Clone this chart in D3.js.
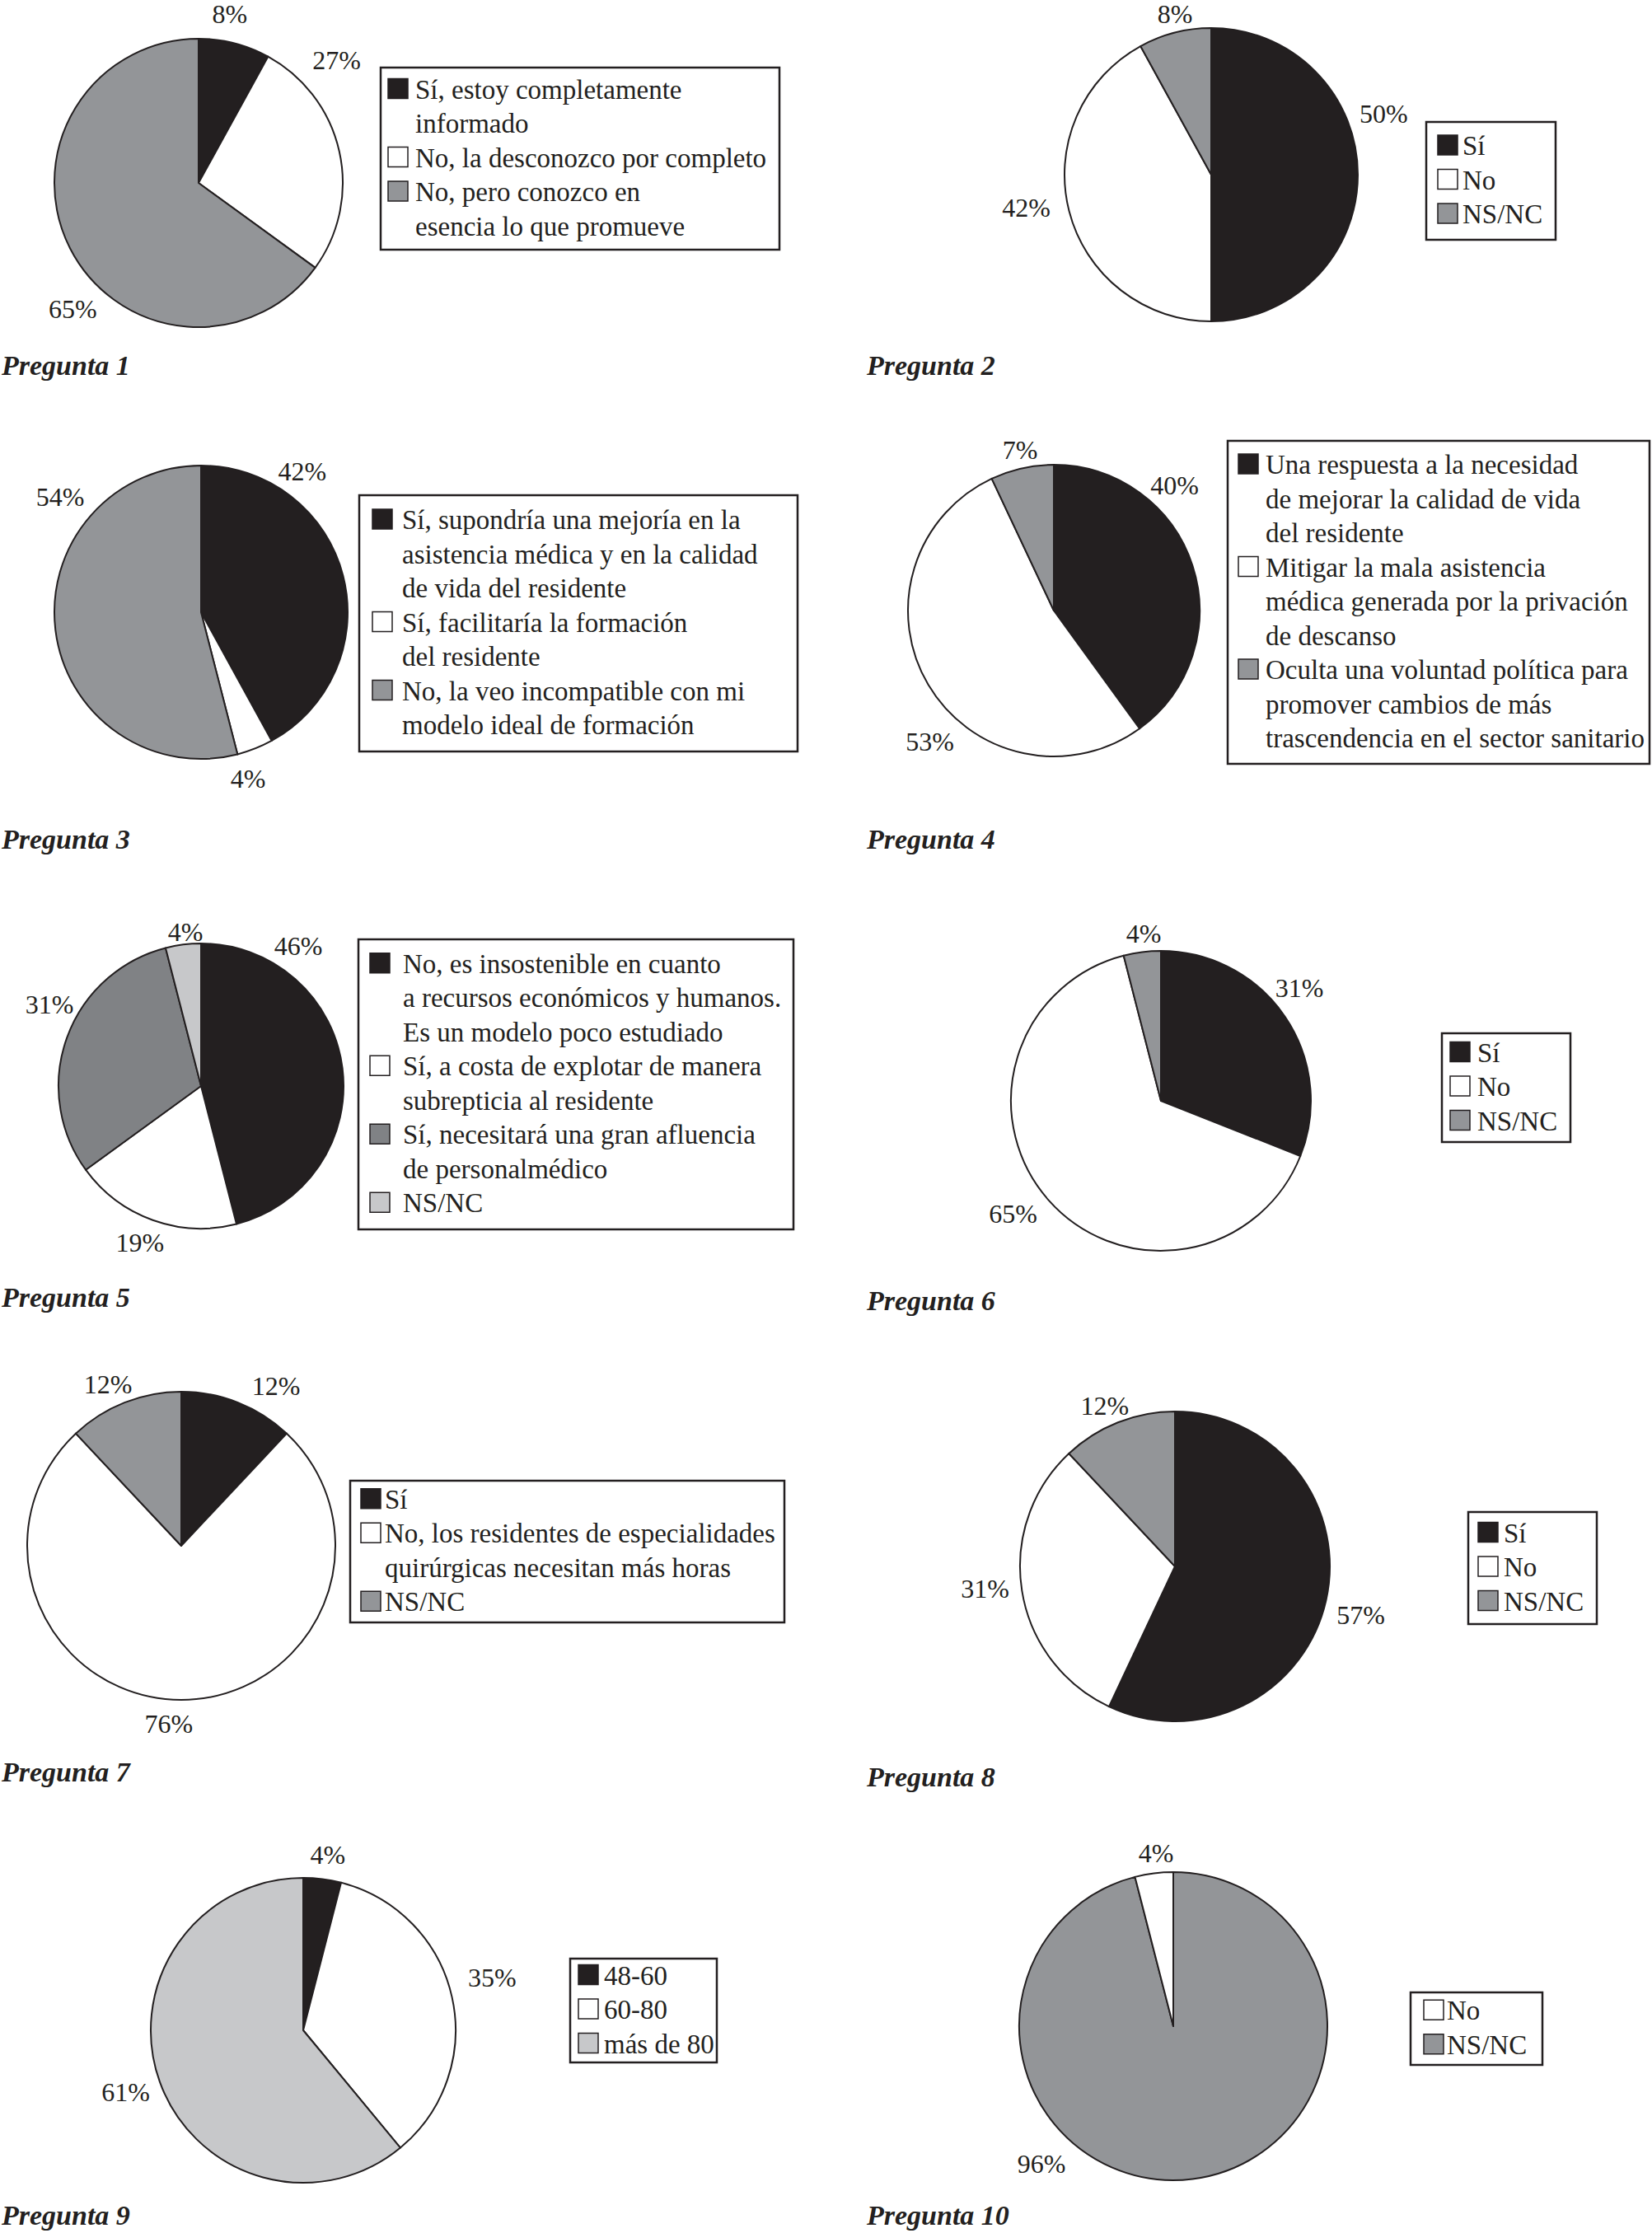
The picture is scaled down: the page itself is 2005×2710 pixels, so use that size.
<!DOCTYPE html>
<html lang="es">
<head>
<meta charset="utf-8">
<title>Preguntas 1-10</title>
<script src="https://cdn.jsdelivr.net/npm/d3@7"></script>
<style>
  body { margin: 0; background: #fff; }
  svg text { font-family: "Liberation Serif", "Times New Roman", serif; fill: #231f20; }
  .pct { font-size: 32px; }
  .leg { font-size: 33px; }
  .title { font-size: 34px; font-weight: bold; font-style: italic; }
</style>
</head>
<body>
<div id="vis"></div>
<script>
// colores
var NEGRO = "#231f20", BLANCO = "#ffffff", GRIS = "#939598", GRIS_OSC = "#808285", GRIS_CLARO = "#c7c8ca";

// datos (porcentajes), en el orden de la leyenda
var p1Cats = [["Sí, estoy completamente", "informado"], ["No, la desconozco por completo"], ["No, pero conozco en", "esencia lo que promueve"]];
var p1Vals = [8, 27, 65];
var p1Cols = [NEGRO, BLANCO, GRIS];

var p2Cats = [["Sí"], ["No"], ["NS/NC"]];
var p2Vals = [50, 42, 8];
var p2Cols = [NEGRO, BLANCO, GRIS];

var p3Cats = [["Sí, supondría una mejoría en la", "asistencia médica y en la calidad", "de vida del residente"], ["Sí, facilitaría la formación", "del residente"], ["No, la veo incompatible con mi", "modelo ideal de formación"]];
var p3Vals = [42, 4, 54];
var p3Cols = [NEGRO, BLANCO, GRIS];

var p4Cats = [["Una respuesta a la necesidad", "de mejorar la calidad de vida", "del residente"], ["Mitigar la mala asistencia", "médica generada por la privación", "de descanso"], ["Oculta una voluntad política para", "promover cambios de más", "trascendencia en el sector sanitario"]];
var p4Vals = [40, 53, 7];
var p4Cols = [NEGRO, BLANCO, GRIS];

var p5Cats = [["No, es insostenible en cuanto", "a recursos económicos y humanos.", "Es un modelo poco estudiado"], ["Sí, a costa de explotar de manera", "subrepticia al residente"], ["Sí, necesitará una gran afluencia", "de personalmédico"], ["NS/NC"]];
var p5Vals = [46, 19, 31, 4];
var p5Cols = [NEGRO, BLANCO, GRIS_OSC, GRIS_CLARO];

var p6Cats = [["Sí"], ["No"], ["NS/NC"]];
var p6Vals = [31, 65, 4];
var p6Cols = [NEGRO, BLANCO, GRIS];

var p7Cats = [["Sí"], ["No, los residentes de especialidades", "quirúrgicas necesitan más horas"], ["NS/NC"]];
var p7Vals = [12, 76, 12];
var p7Cols = [NEGRO, BLANCO, GRIS];

var p8Cats = [["Sí"], ["No"], ["NS/NC"]];
var p8Vals = [57, 31, 12];
var p8Cols = [NEGRO, BLANCO, GRIS];

var p9Cats = [["48-60"], ["60-80"], ["más de 80"]];
var p9Vals = [4, 35, 61];
var p9Cols = [NEGRO, BLANCO, GRIS_CLARO];

var p10Cats = [["No"], ["NS/NC"]];
var p10Vals = [4, 96];
var p10Cols = [BLANCO, GRIS];

// disposición de cada gráfico (centro, radio, etiquetas, leyenda, título)
var charts = [
  {t: "Pregunta 1", cats: p1Cats, vals: p1Vals, cols: p1Cols, cx: 241, cy: 222, r: 175,
   shift: [-4, -29, -18], dist: [209, 224, 216], box: [462, 82, 484, 221], sw: 9, gap: 9, tx: 2, ty: 455},
  {t: "Pregunta 2", cats: p2Cats, vals: p2Vals, cols: p2Cols, cx: 1470, cy: 212, r: 178,
   shift: [-19.5, 4.4, 1.7], dist: [222, 228, 200], box: [1731, 148, 157, 143], sw: 14, gap: 6, tx: 1052, ty: 455},
  {t: "Pregunta 3", cats: p3Cats, vals: p3Vals, cols: p3Cols, cx: 244, cy: 743, r: 178,
   shift: [-40, 5.8, 46.5], dist: [211, 210, 221], box: [436, 601, 532, 311], sw: 16, gap: 12, tx: 2, ty: 1030},
  {t: "Pregunta 4", cats: p4Cats, vals: p4Vals, cols: p4Cols, cx: 1279, cy: 741, r: 177,
   shift: [-28, -16, 0.7], dist: [211, 219, 199], box: [1490, 535, 512, 392], sw: 13, gap: 9, tx: 1052, ty: 1030},
  {t: "Pregunta 5", cats: p5Cats, vals: p5Vals, cols: p5Cols, cx: 244, cy: 1318, r: 173,
   shift: [-48, 1.5, 8.5, 1.4], dist: [207, 204, 209, 188], box: [435, 1140, 528, 352], sw: 14, gap: 16, tx: 2, ty: 1586},
  {t: "Pregunta 6", cats: p6Cats, vals: p6Vals, cols: p6Cols, cx: 1409, cy: 1336, r: 182,
   shift: [-5, 4, 1.3], dist: [217, 226, 204], box: [1750, 1254, 156, 132], sw: 10, gap: 9, tx: 1052, ty: 1590},
  {t: "Pregunta 7", cats: p7Cats, vals: p7Vals, cols: p7Cols, cx: 220, cy: 1876, r: 187,
   shift: [9, 4, -2.8], dist: [226, 216, 215], box: [425, 1797, 527, 172], sw: 13, gap: 5, tx: 2, ty: 2162},
  {t: "Pregunta 8", cats: p8Cats, vals: p8Vals, cols: p8Cols, cx: 1426, cy: 1901, r: 188,
   shift: [2, 2.3, -2], dist: [233, 232, 213], box: [1782, 1835, 156, 136], sw: 12, gap: 7, tx: 1052, ty: 2168},
  {t: "Pregunta 9", cats: p9Cats, vals: p9Vals, cols: p9Cols, cx: 368, cy: 2464, r: 185,
   shift: [0.8, -3, 0.6], dist: [215, 238, 228], box: [692, 2377, 178, 126], sw: 10, gap: 7, tx: 2, ty: 2700},
  {t: "Pregunta 10", cats: p10Cats, vals: p10Vals, cols: p10Cols, cx: 1424, cy: 2459, r: 187,
   shift: [1.5, 51], dist: [211, 231], box: [1712, 2418, 160, 88], sw: 16, gap: 4, tx: 1052, ty: 2700, reverse: true}
];

var LINE_H = 41.5, SW = 24;

var svg = d3.select("#vis").append("svg").attr("width", 2005).attr("height", 2710);
svg.append("rect").attr("width", 2005).attr("height", 2710).attr("fill", "#fff");

charts.forEach(function(c) {
  var g = svg.append("g");
  var rows = c.vals.map(function(v, i) { return {v: v, col: c.cols[i], idx: i}; });
  if (c.reverse) rows = rows.slice().reverse();

  var pie = d3.pie().sort(null).value(function(d) { return d.v; });
  var arc = d3.arc().innerRadius(0).outerRadius(c.r);
  var arcs = pie(rows);

  g.selectAll("path").data(arcs).enter().append("path")
    .attr("transform", "translate(" + c.cx + "," + c.cy + ")")
    .attr("d", arc)
    .attr("fill", function(d) { return d.data.col; })
    .attr("stroke", NEGRO)
    .attr("stroke-width", 2)
    .attr("stroke-linejoin", "round");

  // etiquetas de porcentaje
  g.selectAll("text.pct").data(arcs).enter().append("text")
    .attr("class", "pct")
    .attr("text-anchor", "middle")
    .attr("dy", "0.35em")
    .attr("x", function(d) {
      var i = d.data.idx, a = (d.startAngle + d.endAngle) / 2 + c.shift[i] * Math.PI / 180;
      return c.cx + c.dist[i] * Math.sin(a);
    })
    .attr("y", function(d) {
      var i = d.data.idx, a = (d.startAngle + d.endAngle) / 2 + c.shift[i] * Math.PI / 180;
      return c.cy - c.dist[i] * Math.cos(a);
    })
    .text(function(d) { return d.data.v + "%"; });

  // leyenda
  var b = c.box;
  g.append("rect").attr("x", b[0]).attr("y", b[1]).attr("width", b[2]).attr("height", b[3])
    .attr("fill", "#fff").attr("stroke", NEGRO).attr("stroke-width", 2.5);

  var nLines = d3.sum(c.cats, function(l) { return l.length; });
  var first = b[1] + b[3] / 2 - (nLines - 1) * LINE_H / 2 + 10;
  var line = 0;
  c.cats.forEach(function(lines, i) {
    var base = first + line * LINE_H;
    g.append("rect")
      .attr("x", b[0] + c.sw).attr("y", base - SW)
      .attr("width", SW).attr("height", SW)
      .attr("fill", c.cols[i]).attr("stroke", NEGRO).attr("stroke-width", 1.5);
    lines.forEach(function(txt, j) {
      g.append("text").attr("class", "leg")
        .attr("x", b[0] + c.sw + SW + c.gap)
        .attr("y", first + (line + j) * LINE_H)
        .text(txt);
    });
    line += lines.length;
  });

  g.append("text").attr("class", "title").attr("x", c.tx).attr("y", c.ty).text(c.t);
});
</script>
</body>
</html>
